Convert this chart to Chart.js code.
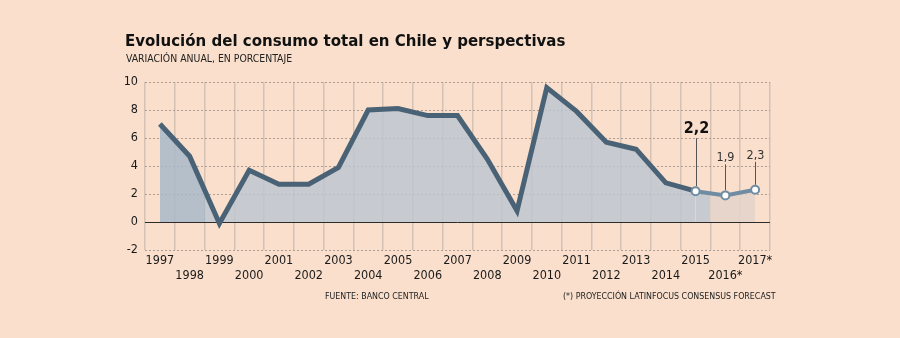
<!DOCTYPE html>
<html>
<head>
<meta charset="utf-8">
<script src="https://cdn.jsdelivr.net/npm/chart.js@4"></script>
<style>
  html, body { margin: 0; padding: 0; background: #f9dfcc; }
  #wrap { position: relative; width: 900px; height: 338px; overflow: hidden; }
  canvas { position: absolute; left: 0; top: 0; }
  .txt { position: absolute; white-space: nowrap; color: #1a1a1a; line-height: 1; font-family: "DejaVu Sans Condensed", sans-serif; }
  #title { left: 125px; top: 32px; font-weight: bold; font-size: 16.7px; color: #111; }
  #sub { left: 126px; top: 53px; font-size: 10.4px; color: #222; }
  #src { left: 325px; top: 292px; font-size: 8.8px; color: #222; }
  #note { left: 563px; top: 292px; font-size: 8.8px; color: #222; }
</style>
</head>
<body>
<div id="wrap">
  <canvas id="c" width="900" height="338"></canvas>
  <div class="txt" id="title">Evolución del consumo total en Chile y perspectivas</div>
  <div class="txt" id="sub">VARIACIÓN ANUAL, EN PORCENTAJE</div>
  <div class="txt" id="src">FUENTE: BANCO CENTRAL</div>
  <div class="txt" id="note">(*) PROYECCIÓN LATINFOCUS CONSENSUS FORECAST</div>
</div>
<script>
// años y variación anual del consumo (%)
const years = ['1997', '1998', '1999', '2000', '2001', '2002', '2003', '2004', '2005', '2006', '2007',
  '2008', '2009', '2010', '2011', '2012', '2013', '2014', '2015', '2016*', '2017*'];
const consumo = [7.0, 4.7, -0.1, 3.7, 2.7, 2.7, 3.9, 8.0, 8.1, 7.6, 7.6,
  4.5, 0.8, 9.6, 7.9, 5.7, 5.2, 2.8, 2.2, 1.9, 2.3];
const yTicks = [-2, 0, 2, 4, 6, 8, 10];

// value labels over the last three points
const callouts = [
  { idx: 18, text: '2,2', bold: true },
  { idx: 19, text: '1,9', bold: false },
  { idx: 20, text: '2,3', bold: false }
];

const FIRST_PROJ = 18;   // from 2015 on the line is lighter
const DARK = '#4a6275';
const LIGHT = '#6f8ca3';
const FONT = 'DejaVu Sans Condensed';

// fill: bluish up to 1998, grey, then beige for projections
function areaFill(c) {
  const chart = c.chart;
  const area = chart.chartArea;
  if (!area) return 'rgba(190,198,206,0.85)';
  const x = chart.scales.x;
  const w = area.right - area.left;
  const b1 = ((x.getPixelForValue(1) + x.getPixelForValue(2)) / 2 - area.left) / w;
  const b2 = ((x.getPixelForValue(18) + x.getPixelForValue(19)) / 2 - area.left) / w;
  const g = chart.ctx.createLinearGradient(area.left, 0, area.right, 0);
  g.addColorStop(0, 'rgba(166,184,200,0.82)');
  g.addColorStop(b1, 'rgba(166,184,200,0.82)');
  g.addColorStop(b1, 'rgba(188,198,208,0.82)');
  g.addColorStop(b2, 'rgba(188,198,208,0.82)');
  g.addColorStop(b2, 'rgba(228,212,202,0.85)');
  g.addColorStop(1, 'rgba(228,212,202,0.85)');
  return g;
}

const extras = {
  id: 'extras',
  beforeDatasetsDraw(chart) {
    // zero line
    const { ctx, chartArea: a, scales: { y } } = chart;
    const y0 = Math.round(y.getPixelForValue(0)) + 0.5;
    ctx.save();
    ctx.strokeStyle = '#2b2b2b';
    ctx.lineWidth = 1;
    ctx.beginPath();
    ctx.moveTo(a.left, y0);
    ctx.lineTo(a.right, y0);
    ctx.stroke();
    ctx.restore();
  },
  afterDatasetsDraw(chart) {
    const { ctx, scales: { x, y } } = chart;
    ctx.save();
    callouts.forEach(c => {
      const px = Math.round(x.getPixelForValue(c.idx)) + 0.5;
      const py = y.getPixelForValue(consumo[c.idx]);
      const stem = c.bold ? 53 : (c.idx === 19 ? 31 : 28);
      ctx.strokeStyle = '#555';
      ctx.lineWidth = 1;
      ctx.beginPath();
      ctx.moveTo(px, py - 5);
      ctx.lineTo(px, py - stem);
      ctx.stroke();
      ctx.fillStyle = c.bold ? '#111' : '#333';
      ctx.font = c.bold ? 'bold 16px "' + FONT + '"' : '12.5px "' + FONT + '"';
      ctx.textAlign = 'center';
      ctx.textBaseline = 'alphabetic';
      ctx.fillText(c.text, px, py - stem - (c.bold ? 5 : 3));
    });
    ctx.restore();
  }
};

new Chart(document.getElementById('c'), {
  type: 'line',
  data: {
    labels: years,
    datasets: [{
      data: consumo,
      fill: 'origin',
      backgroundColor: areaFill,
      borderColor: DARK,
      borderWidth: 5,
      borderJoinStyle: 'miter',
      tension: 0,
      segment: {
        borderColor: c => c.p0DataIndex >= FIRST_PROJ ? LIGHT : DARK,
        borderWidth: c => c.p0DataIndex >= FIRST_PROJ ? 4 : 5
      },
      pointRadius: c => c.dataIndex >= FIRST_PROJ ? 4 : 0,
      pointBackgroundColor: '#ffffff',
      pointBorderColor: LIGHT,
      pointBorderWidth: 2
    }]
  },
  options: {
    responsive: false,
    animation: false,
    layout: { padding: { left: 0, right: 130, top: 82, bottom: 38 } },
    plugins: { legend: { display: false }, tooltip: { enabled: false } },
    scales: {
      x: {
        offset: true,
        grid: { offset: true, color: '#d4c2b5', lineWidth: 1.5, drawTicks: false },
        border: { display: false },
        afterFit: s => { s.height = 50; },
        ticks: {
          autoSkip: false,
          maxRotation: 0,
          padding: 3,
          color: '#1a1a1a',
          font: { family: FONT, size: 12.5, lineHeight: 1.2 },
          callback: (v, i) => i % 2 === 0 ? [years[i], ''] : ['', years[i]]
        }
      },
      y: {
        min: -2,
        max: 10,
        afterBuildTicks: s => { s.ticks = yTicks.map(v => ({ value: v })); },
        afterFit: s => { s.width = 145; },
        grid: { color: c => c.tick.value === 0 ? 'rgba(0,0,0,0)' : '#ad9d92', lineWidth: 1, drawTicks: false },
        border: { display: false, dash: [2, 2] },
        ticks: {
          padding: 7,
          color: '#1a1a1a',
          font: { family: FONT, size: 12.5 }
        }
      }
    }
  },
  plugins: [extras]
});
</script>
</body>
</html>
